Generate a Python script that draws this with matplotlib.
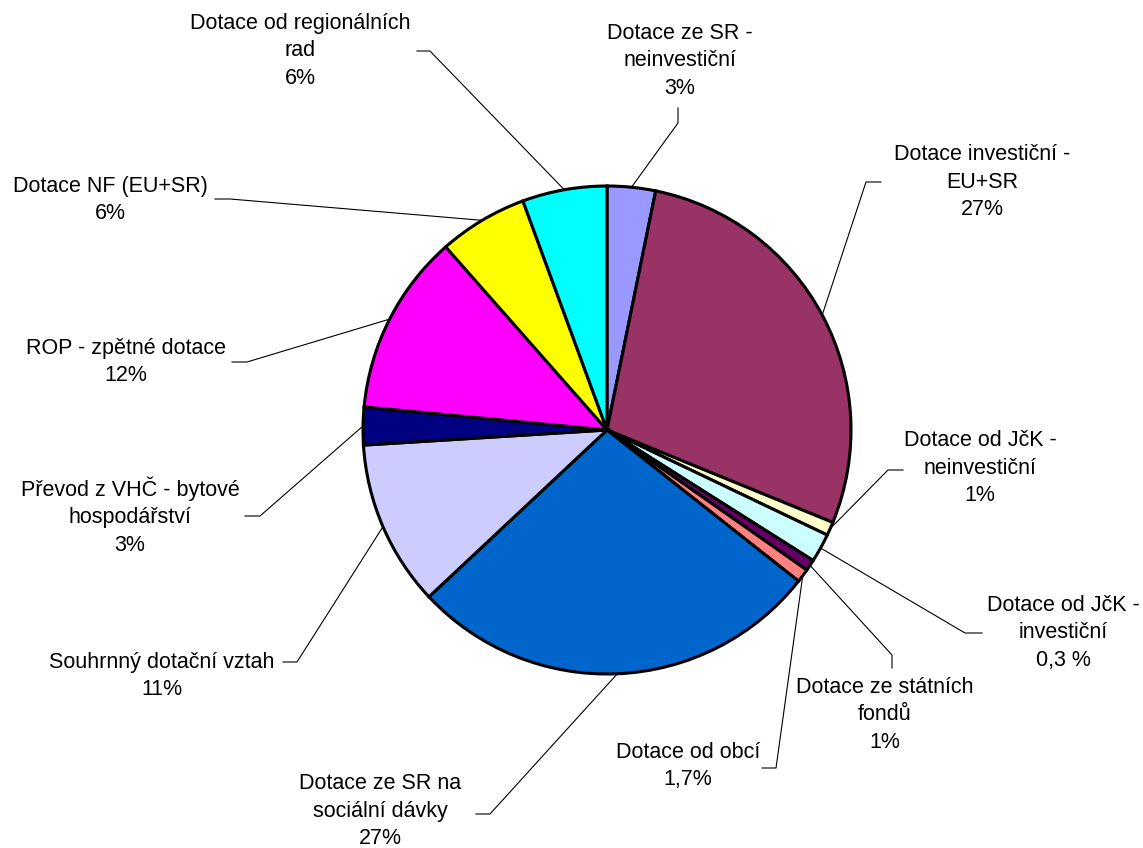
import numpy as np
import matplotlib
matplotlib.use("Agg")
import matplotlib.pyplot as plt

plt.rcParams['font.family'] = ['Liberation Sans', 'DejaVu Sans']

# slices, clockwise from 12 o'clock
labels = ["Dotace ze SR -\nneinvestiční\n3%",
          "Dotace investiční -\nEU+SR\n27%",
          "Dotace od JčK -\nneinvestiční\n1%",
          "Dotace od JčK -\ninvestiční\n0,3 %",
          "Dotace ze státních\nfondů\n1%",
          "Dotace od obcí\n1,7%",
          "Dotace ze SR na\nsociální dávky\n27%",
          "Souhrnný dotační vztah\n11%",
          "Převod z VHČ - bytové\nhospodářství\n3%",
          "ROP - zpětné dotace\n12%",
          "Dotace NF (EU+SR)\n6%",
          "Dotace od regionálních\nrad\n6%"]
values = [3.2, 28.0, 0.9, 1.9, 0.75, 0.9, 27.4, 11.0, 2.5, 12.0, 5.9, 5.6]
colors = ["#9999FF", "#993366", "#FFFFCC", "#CCFFFF", "#660066", "#FF8080",
          "#0066CC", "#CCCCFF", "#000080", "#FF00FF", "#FFFF00", "#00FFFF"]

W, H = 1143, 848
cx, cy, R = 607, 430, 244   # pixel coords, y from top

# label layout: text centre, elbow start, elbow end (pixels, y from top)
layout = [
    ((680, 61), (678, 108), (678, 123)),
    ((982, 182), (881, 182), (866, 182)),
    ((980, 468), (903, 470), (888, 470)),
    ((1063, 633), (982, 633), (965, 633)),
    ((885, 715), (892, 668), (892, 655)),
    ((688, 766), (762, 768), (776, 768)),
    ((380, 811), (476, 814), (490, 814)),
    ((162, 676), (283, 662), (297, 662)),
    ((130, 516), (245, 516), (260, 516)),
    ((126, 362), (232, 362), (247, 362)),
    ((110, 200), (215, 199), (230, 199)),
    ((300, 51), (417, 51), (430, 51)),
]

fig = plt.figure(figsize=(W / 100, H / 100), dpi=100)
ax = fig.add_axes([0, 0, 1, 1])

def Y(y):
    return H - y

wedges, _ = ax.pie(values, colors=colors, startangle=90, counterclock=False,
                   center=(cx, Y(cy)), radius=R, frame=True,
                   wedgeprops=dict(edgecolor='black', linewidth=2.2))
ax.set_xlim(0, W)
ax.set_ylim(0, H)
ax.axis('off')

for w, lab, (tpos, p1, p2) in zip(wedges, labels, layout):
    mid = np.deg2rad((w.theta1 + w.theta2) / 2)
    ex = cx + R * np.cos(mid)
    ey = Y(cy) + R * np.sin(mid)
    ax.plot([p1[0], p2[0], ex], [Y(p1[1]), Y(p2[1]), ey], color='black', lw=0.8)
    ax.text(tpos[0], Y(tpos[1]), lab, ha='center', va='center',
            fontsize=15.5, linespacing=1.41)

fig.savefig("out.png", dpi=100)
